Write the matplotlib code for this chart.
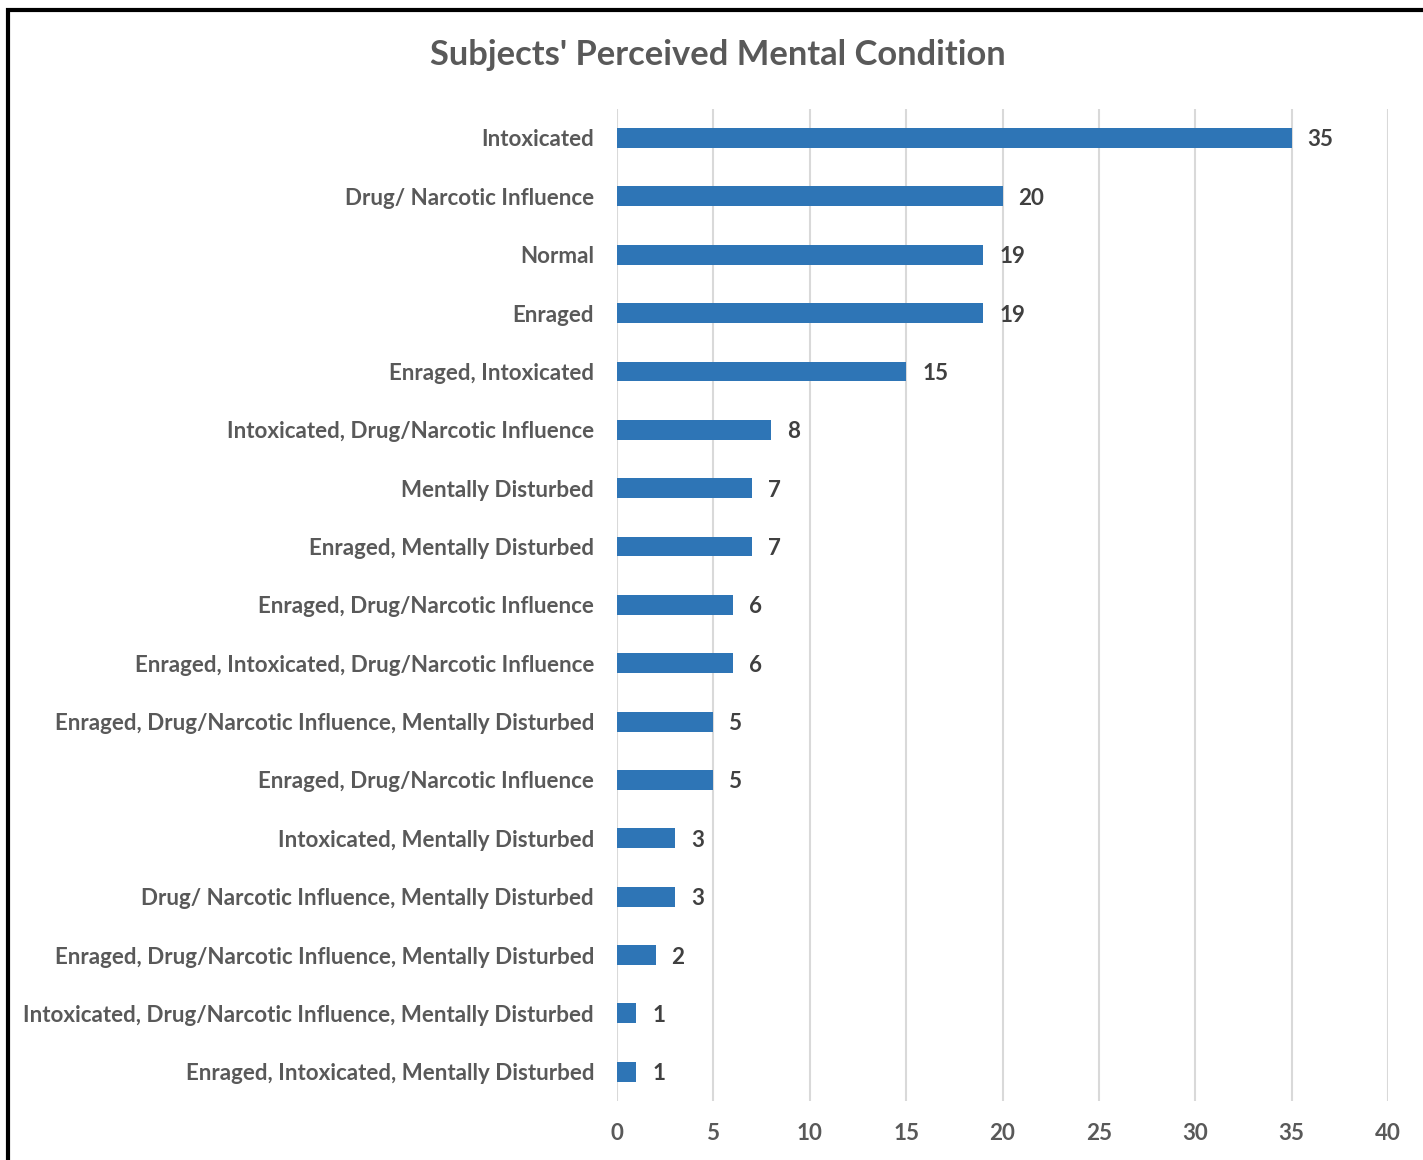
"""Horizontal bar chart of subjects' perceived mental condition."""

import matplotlib
matplotlib.use("Agg")
import matplotlib.pyplot as plt
from matplotlib.patches import Rectangle
import numpy as np

categories = [
    "Intoxicated",
    "Drug/ Narcotic Influence",
    "Normal",
    "Enraged",
    "Enraged, Intoxicated",
    "Intoxicated, Drug/Narcotic Influence",
    "Mentally Disturbed",
    "Enraged, Mentally Disturbed",
    "Enraged, Drug/Narcotic Influence",
    "Enraged, Intoxicated, Drug/Narcotic Influence",
    "Enraged, Drug/Narcotic Influence, Mentally Disturbed",
    "Enraged, Drug/Narcotic Influence",
    "Intoxicated, Mentally Disturbed",
    "Drug/ Narcotic Influence, Mentally Disturbed",
    "Enraged, Drug/Narcotic Influence, Mentally Disturbed",
    "Intoxicated, Drug/Narcotic Influence, Mentally Disturbed",
    "Enraged, Intoxicated, Mentally Disturbed",
]
counts = [35, 20, 19, 19, 15, 8, 7, 7, 6, 6, 5, 5, 3, 3, 2, 1, 1]
x_ticks = [0, 5, 10, 15, 20, 25, 30, 35, 40]

BAR_COLOR = "#2E75B6"
TEXT_COLOR = "#595959"
LABEL_COLOR = "#404040"
GRID_COLOR = "#D9D9D9"

plt.rcParams["font.family"] = ["Lato", "DejaVu Sans"]

fig = plt.figure(figsize=(14.23, 11.6), dpi=100)
ax = fig.add_axes([0.4336, 0.0509, 0.5418, 0.8553])

pos = np.arange(len(categories))
bars = ax.barh(pos, counts, height=0.34, color=BAR_COLOR, zorder=3)

ax.set_ylim(len(categories) - 0.5, -0.5)
ax.set_xlim(0, 40)
ax.set_yticks(pos)
ax.set_yticklabels(categories, fontsize=16.1, fontweight="bold", color=TEXT_COLOR)
ax.set_xticks(x_ticks)
ax.set_xticklabels([str(t) for t in x_ticks], fontsize=16.1,
                   fontweight="bold", color=TEXT_COLOR)
ax.tick_params(axis="y", length=0, pad=16.5)
ax.tick_params(axis="x", length=0, pad=16)

ax.grid(axis="x", color=GRID_COLOR, linewidth=1.5, zorder=0)
for side in ax.spines.values():
    side.set_visible(False)

for rect, val in zip(bars, counts):
    ax.annotate(str(val), (rect.get_width(), rect.get_y() + rect.get_height() / 2),
                xytext=(16, -2), textcoords="offset pixels",
                va="center", ha="left", fontsize=16.1, fontweight="bold",
                color=LABEL_COLOR)

fig.text(0.5046, 0.9525, "Subjects' Perceived Mental Condition", ha="center",
         va="center", fontsize=24.8, fontweight="bold", color=TEXT_COLOR)

# frame round the chart, cut off on the right and bottom like the source image
fig.patches.append(Rectangle((7.5 / 1423, -0.1), 1.2, 1 - 10 / 1160 + 0.1,
                             transform=fig.transFigure, fill=False,
                             edgecolor="black", linewidth=3))

fig.savefig("out.png", dpi=100)
